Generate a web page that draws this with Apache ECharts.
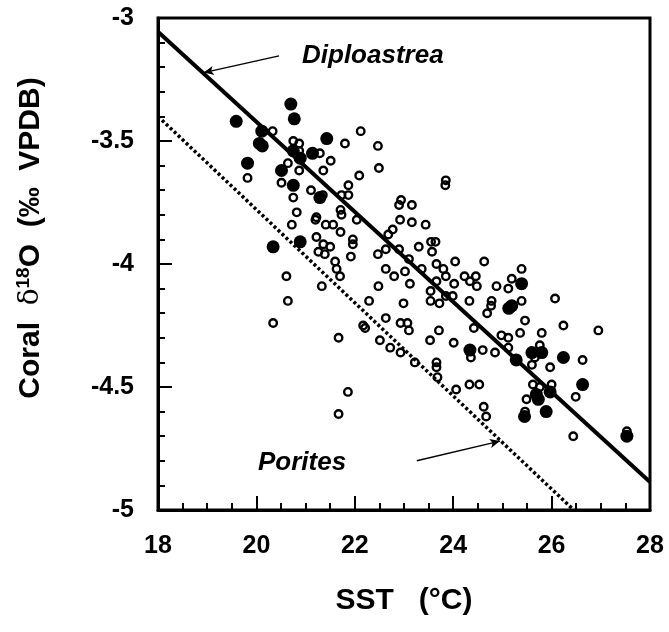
<!DOCTYPE html>
<html>
<head>
<meta charset="utf-8">
<script src="https://cdn.jsdelivr.net/npm/echarts@6/dist/echarts.min.js"></script>
<style>
  html, body { margin: 0; padding: 0; background: #fff; }
  #chart { width: 669px; height: 632px; }
</style>
</head>
<body>
<div id="chart"></div>
<script>
// Diploastrea samples (filled circles): [SST, d18O]
const diploastreaPoints = [
  [19.59, -3.42], [20.70, -3.35], [20.77, -3.41], [20.11, -3.46], [20.06, -3.51],
  [20.12, -3.52], [19.82, -3.59], [20.51, -3.62], [20.75, -3.54], [20.89, -3.57],
  [21.14, -3.55], [21.43, -3.49], [20.75, -3.68], [21.29, -3.73], [20.34, -3.93],
  [20.89, -3.91], [24.34, -4.35], [25.39, -4.08], [25.13, -4.18], [25.19, -4.17],
  [25.28, -4.39], [25.60, -4.36], [25.80, -4.36], [26.24, -4.38], [25.69, -4.53],
  [25.73, -4.55], [25.97, -4.52], [25.89, -4.60], [25.45, -4.62], [26.63, -4.49],
  [27.53, -4.70]
];

// Porites samples (open circles)
const poritesPoints = [
  [20.33, -3.46], [20.75, -3.50], [20.87, -3.51], [20.87, -3.54], [21.29, -3.55],
  [21.51, -3.58], [21.80, -3.51], [22.12, -3.46], [22.47, -3.52], [22.49, -3.61],
  [20.64, -3.59], [20.87, -3.62], [21.36, -3.62], [22.09, -3.64], [19.82, -3.65],
  [20.51, -3.67], [20.75, -3.73], [21.11, -3.70], [21.35, -3.72], [21.73, -3.72],
  [21.87, -3.68], [21.87, -3.72], [21.71, -3.78], [21.73, -3.80], [22.04, -3.82],
  [20.82, -3.79], [20.72, -3.84], [21.22, -3.81], [21.20, -3.82], [21.41, -3.84],
  [21.56, -3.84], [21.71, -3.87], [21.22, -3.89], [21.36, -3.92], [21.50, -3.93],
  [21.26, -3.95], [21.39, -3.96], [21.96, -3.90], [21.96, -3.92], [21.92, -3.97],
  [21.60, -3.99], [21.63, -4.02], [21.70, -4.05], [20.61, -4.05], [22.47, -3.96],
  [22.63, -3.94], [22.68, -3.88], [22.77, -3.86], [22.63, -4.02], [22.80, -4.05],
  [20.64, -4.15], [20.34, -4.24], [21.33, -4.09], [21.67, -4.30], [21.86, -4.52],
  [21.67, -4.61], [22.29, -4.15], [22.48, -4.09], [23.02, -4.03], [23.12, -4.08],
  [22.99, -4.16], [22.63, -4.22], [22.17, -4.25], [22.21, -4.26], [22.93, -4.24],
  [23.07, -4.24], [23.10, -4.27], [22.51, -4.31], [22.72, -4.34], [22.93, -4.36],
  [23.22, -4.40], [23.54, -4.11], [23.54, -4.15], [23.72, -4.16], [23.66, -4.07],
  [23.36, -4.02], [23.66, -4.00], [23.80, -4.02], [23.71, -4.27], [23.53, -4.31],
  [23.66, -4.40], [23.66, -4.42], [23.68, -4.46],
  [23.85, -3.66], [23.84, -3.68], [22.94, -3.74], [22.90, -3.76], [23.16, -3.76],
  [22.92, -3.82], [23.16, -3.83], [23.44, -3.84], [22.90, -3.94], [23.30, -3.93],
  [23.55, -3.91], [23.64, -3.91], [23.57, -3.95], [23.10, -3.98], [23.85, -4.05],
  [24.04, -3.99], [24.63, -3.99], [24.23, -4.05], [24.34, -4.07], [24.46, -4.05],
  [24.48, -4.09], [24.02, -4.08], [24.88, -4.09], [23.85, -4.13], [23.99, -4.13],
  [24.33, -4.15], [24.01, -4.32], [24.36, -4.38], [24.60, -4.35], [24.85, -4.36],
  [24.42, -4.26], [24.78, -4.15], [24.77, -4.17], [24.69, -4.20], [24.06, -4.51],
  [24.33, -4.49], [24.53, -4.49], [24.62, -4.58], [24.67, -4.62],
  [25.12, -4.10], [25.19, -4.06], [25.39, -4.02], [25.39, -4.15], [25.46, -4.23],
  [26.07, -4.14], [26.24, -4.25], [26.95, -4.27], [24.98, -4.29], [25.12, -4.30],
  [25.12, -4.34], [25.36, -4.28], [25.80, -4.28], [25.76, -4.33], [25.66, -4.38],
  [25.60, -4.41], [25.97, -4.42], [26.63, -4.39], [25.62, -4.49], [25.76, -4.50],
  [26.00, -4.49], [25.49, -4.55], [25.46, -4.60], [26.49, -4.54], [26.44, -4.70],
  [27.53, -4.68]
];

// regression lines (end points)
const diploastreaFit = [[18, -3.056], [28, -4.886]];
const poritesFit = [[18, -3.40], [26.45, -5.0]];

// annotation arrows: [from, to]
const diploastreaArrow = [[20.46, -3.154], [18.93, -3.222]];
const poritesArrow = [[23.26, -4.80], [24.95, -4.72]];

const xTicks = { min: 18, max: 28, interval: 2 };
const yTicks = { min: -5, max: -3, interval: 0.5 };

const FONT = '"Liberation Sans", Arial, sans-serif';

const chart = echarts.init(document.getElementById('chart'), null, { renderer: 'canvas' });

const arrowMark = (pts) => ({
  silent: true,
  symbol: ['none', 'arrow'],
  symbolSize: [7, 10],
  label: { show: false },
  lineStyle: { color: '#000', width: 1.5, type: 'solid', opacity: 1 },
  itemStyle: { color: '#000', opacity: 1 },
  data: [[{ coord: pts[0] }, { coord: pts[1] }]]
});

chart.setOption({
  animation: false,
  backgroundColor: '#fff',
  grid: {
    left: 158, right: 19, top: 18, bottom: 122,
    show: true, borderColor: '#000', borderWidth: 3, backgroundColor: 'transparent'
  },
  xAxis: {
    type: 'value',
    min: xTicks.min, max: xTicks.max, interval: xTicks.interval,
    name: 'SST   (°C)',
    nameLocation: 'middle',
    nameGap: 76,
    nameTextStyle: { fontFamily: FONT, fontWeight: 'bold', fontSize: 30, color: '#000' },
    axisLine: { lineStyle: { color: '#000', width: 3 } },
    axisTick: { inside: true, length: 14, lineStyle: { color: '#000', width: 2 } },
    minorTick: { show: true, splitNumber: 4, length: 7, lineStyle: { color: '#000', width: 2 } },
    axisLabel: { margin: 24, fontFamily: FONT, fontWeight: 'bold', fontSize: 25, color: '#000' },
    splitLine: { show: false }
  },
  yAxis: {
    type: 'value',
    min: yTicks.min, max: yTicks.max, interval: yTicks.interval,
    axisLine: { lineStyle: { color: '#000', width: 3 } },
    axisTick: { inside: true, length: 14, lineStyle: { color: '#000', width: 2 } },
    minorTick: { show: true, splitNumber: 5, length: 7, lineStyle: { color: '#000', width: 2 } },
    axisLabel: { margin: 24, fontFamily: FONT, fontWeight: 'bold', fontSize: 25, color: '#000' },
    splitLine: { show: false }
  },
  graphic: [
    {
      type: 'text',
      x: 31, y: 238,
      rotation: Math.PI / 2,
      style: {
        text: '{b|Coral  }{d|δ}{s|18}{b|O  (‰  VPDB)}',
        align: 'center',
        verticalAlign: 'middle',
        rich: {
          b: { fontFamily: FONT, fontWeight: 'bold', fontSize: 30, fill: '#000', lineHeight: 34 },
          d: { fontFamily: '"DejaVu Serif", serif', fontSize: 28, fill: '#000', lineHeight: 34 },
          s: { fontFamily: FONT, fontWeight: 'bold', fontSize: 19, fill: '#000', verticalAlign: 'top', lineHeight: 34 }
        }
      }
    },
    {
      type: 'text',
      x: 302, y: 56,
      style: {
        text: 'Diploastrea',
        font: 'italic bold 26px ' + FONT,
        fill: '#000',
        verticalAlign: 'middle'
      }
    },
    {
      type: 'text',
      x: 258, y: 463,
      style: {
        text: 'Porites',
        font: 'italic bold 26px ' + FONT,
        fill: '#000',
        verticalAlign: 'middle'
      }
    }
  ],
  series: [
    {
      name: 'Diploastrea fit',
      type: 'line',
      data: diploastreaFit,
      symbol: 'none',
      silent: true,
      lineStyle: { color: '#000', width: 4 },
      markLine: arrowMark(diploastreaArrow),
      z: 3
    },
    {
      name: 'Porites fit',
      type: 'line',
      data: poritesFit,
      symbol: 'none',
      silent: true,
      lineStyle: { color: '#000', width: 3.5, type: [3, 2.5] },
      markLine: arrowMark(poritesArrow),
      z: 3
    },
    {
      name: 'Diploastrea',
      type: 'scatter',
      data: diploastreaPoints,
      symbol: 'circle',
      symbolSize: 13,
      itemStyle: { color: '#000', opacity: 1 },
      z: 4
    },
    {
      name: 'Porites',
      type: 'scatter',
      data: poritesPoints,
      symbol: 'circle',
      symbolSize: 7.5,
      itemStyle: { color: 'rgba(0,0,0,0)', borderColor: '#000', borderWidth: 2.4, opacity: 1 },
      z: 5
    }
  ]
});
</script>
</body>
</html>
